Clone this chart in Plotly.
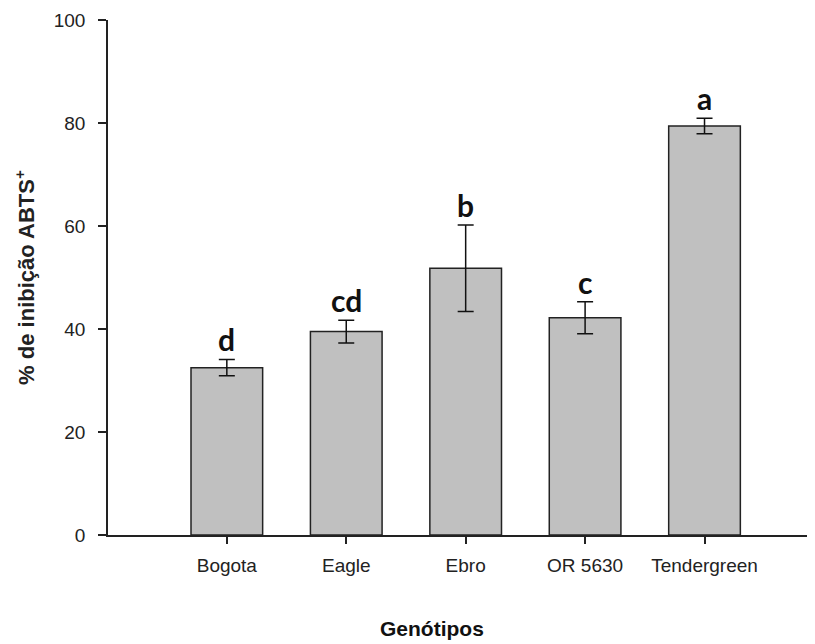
import plotly.graph_objects as go

genotypes = ["Bogota", "Eagle", "Ebro", "OR 5630", "Tendergreen"]
inhibition = [32.5, 39.5, 51.8, 42.2, 79.4]
errors = [1.6, 2.2, 8.4, 3.1, 1.5]
letters = ["d", "cd", "b", "c", "a"]
y_ticks = [0, 20, 40, 60, 80, 100]

x_pos = list(range(len(genotypes)))

# The page body has an 8px margin, so the figure is sized to fit inside it.
W, H = 807, 636
L, R, T, B = 100, 3, 12, 109
pw, ph = W - L - R, H - T - B

fig = go.Figure()
fig.add_trace(go.Bar(
    x=x_pos, y=inhibition, width=0.6,
    marker=dict(color="#c0c0c0", line=dict(color="#222222", width=1.5)),
    error_y=dict(type="data", array=errors, visible=True, color="#111111", thickness=1.5, width=8),
    showlegend=False,
))

for xi, v, e, l in zip(x_pos, inhibition, errors, letters):
    fig.add_annotation(x=xi, y=v + e, text="<b>" + l + "</b>", showarrow=False,
                       yanchor="bottom", yshift=0,
                       font=dict(family="Lato", size=30, color="#111111"))

gx, gy = 424, 620  # figure pixel position of x-axis title
fig.add_annotation(x=(gx - L) / pw, xref="paper", y=(H - B - gy) / ph, yref="paper",
                   text="<b>Genótipos</b>", showarrow=False, yanchor="middle", xanchor="center",
                   font=dict(family="Liberation Sans", size=21, color="#111111"))

fig.update_layout(
    width=W, height=H,
    margin=dict(l=L, r=R, t=T, b=B, autoexpand=False),
    plot_bgcolor="white", paper_bgcolor="white",
    font=dict(family="Liberation Sans", size=19, color="#222222"),
)
fig.update_xaxes(range=[-0.995, 4.9], tickvals=x_pos, ticktext=genotypes,
                 showline=True, linecolor="#222222", linewidth=1.5,
                 ticks="outside", ticklen=7, tickwidth=1.5, tickcolor="#222222",
                 showgrid=False, zeroline=False, tickfont=dict(size=19),
                 ticklabelstandoff=5, automargin=False)
fig.update_yaxes(range=[0, 100], tickvals=y_ticks,
                 showline=True, linecolor="#222222", linewidth=1.5,
                 ticks="outside", ticklen=8, tickwidth=1.5, tickcolor="#222222",
                 showgrid=False, zeroline=False, tickfont=dict(size=19),
                 ticklabelstandoff=9, automargin=False,
                 title=dict(text="<b>% de inibição ABTS<sup>+</sup></b>", font=dict(size=22), standoff=13))

fig.write_html("out.html")
